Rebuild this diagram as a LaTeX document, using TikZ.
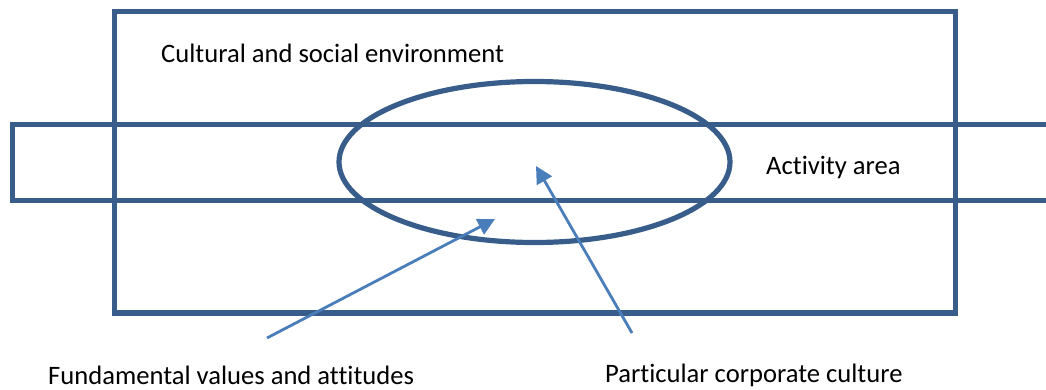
\documentclass[tikz,border=0pt]{standalone}
\usepackage{fontspec}
\setmainfont[Ligatures=NoCommon]{Carlito}
\usetikzlibrary{arrows.meta}
\definecolor{frame}{RGB}{56,93,138}
\definecolor{arr}{RGB}{74,126,187}
\tikzset{
  box/.style={draw=frame, line width=5.2pt},
  conn/.style={draw=arr, line width=2.8pt, -{Triangle[length=17pt,width=17pt]}},
  lbl/.style={font=\fontsize{26.6}{30}\selectfont, inner sep=0pt, anchor=west, text=black}
}
\begin{document}
\begin{tikzpicture}[x=1pt,y=-1pt]
\useasboundingbox (0,0) rectangle (1046,390);
\draw[box] (114.5,11.5) rectangle (955.5,313);
\draw[box] (1060,124.5) -- (12.5,124.5) -- (12.5,200.5) -- (1060,200.5);
\draw[box] (534.5,162) ellipse [x radius=195.5, y radius=80.5];
\node[lbl] (cult) at (161,53) {Cultural and social environment};
\node[lbl] (act) at (766,167) {Activity area};
\node[lbl] (fund) at (48,375) {Fundamental values and attitudes};
\node[lbl] (part) at (605,375) {Particular corporate culture};
\coordinate (t1) at (267,338);
\coordinate (h1) at (495,219);
\coordinate (t2) at (632,333);
\coordinate (h2) at (536,166);
\draw[conn] (t1) -- (h1);
\draw[conn] (t2) -- (h2);
\end{tikzpicture}
\end{document}
